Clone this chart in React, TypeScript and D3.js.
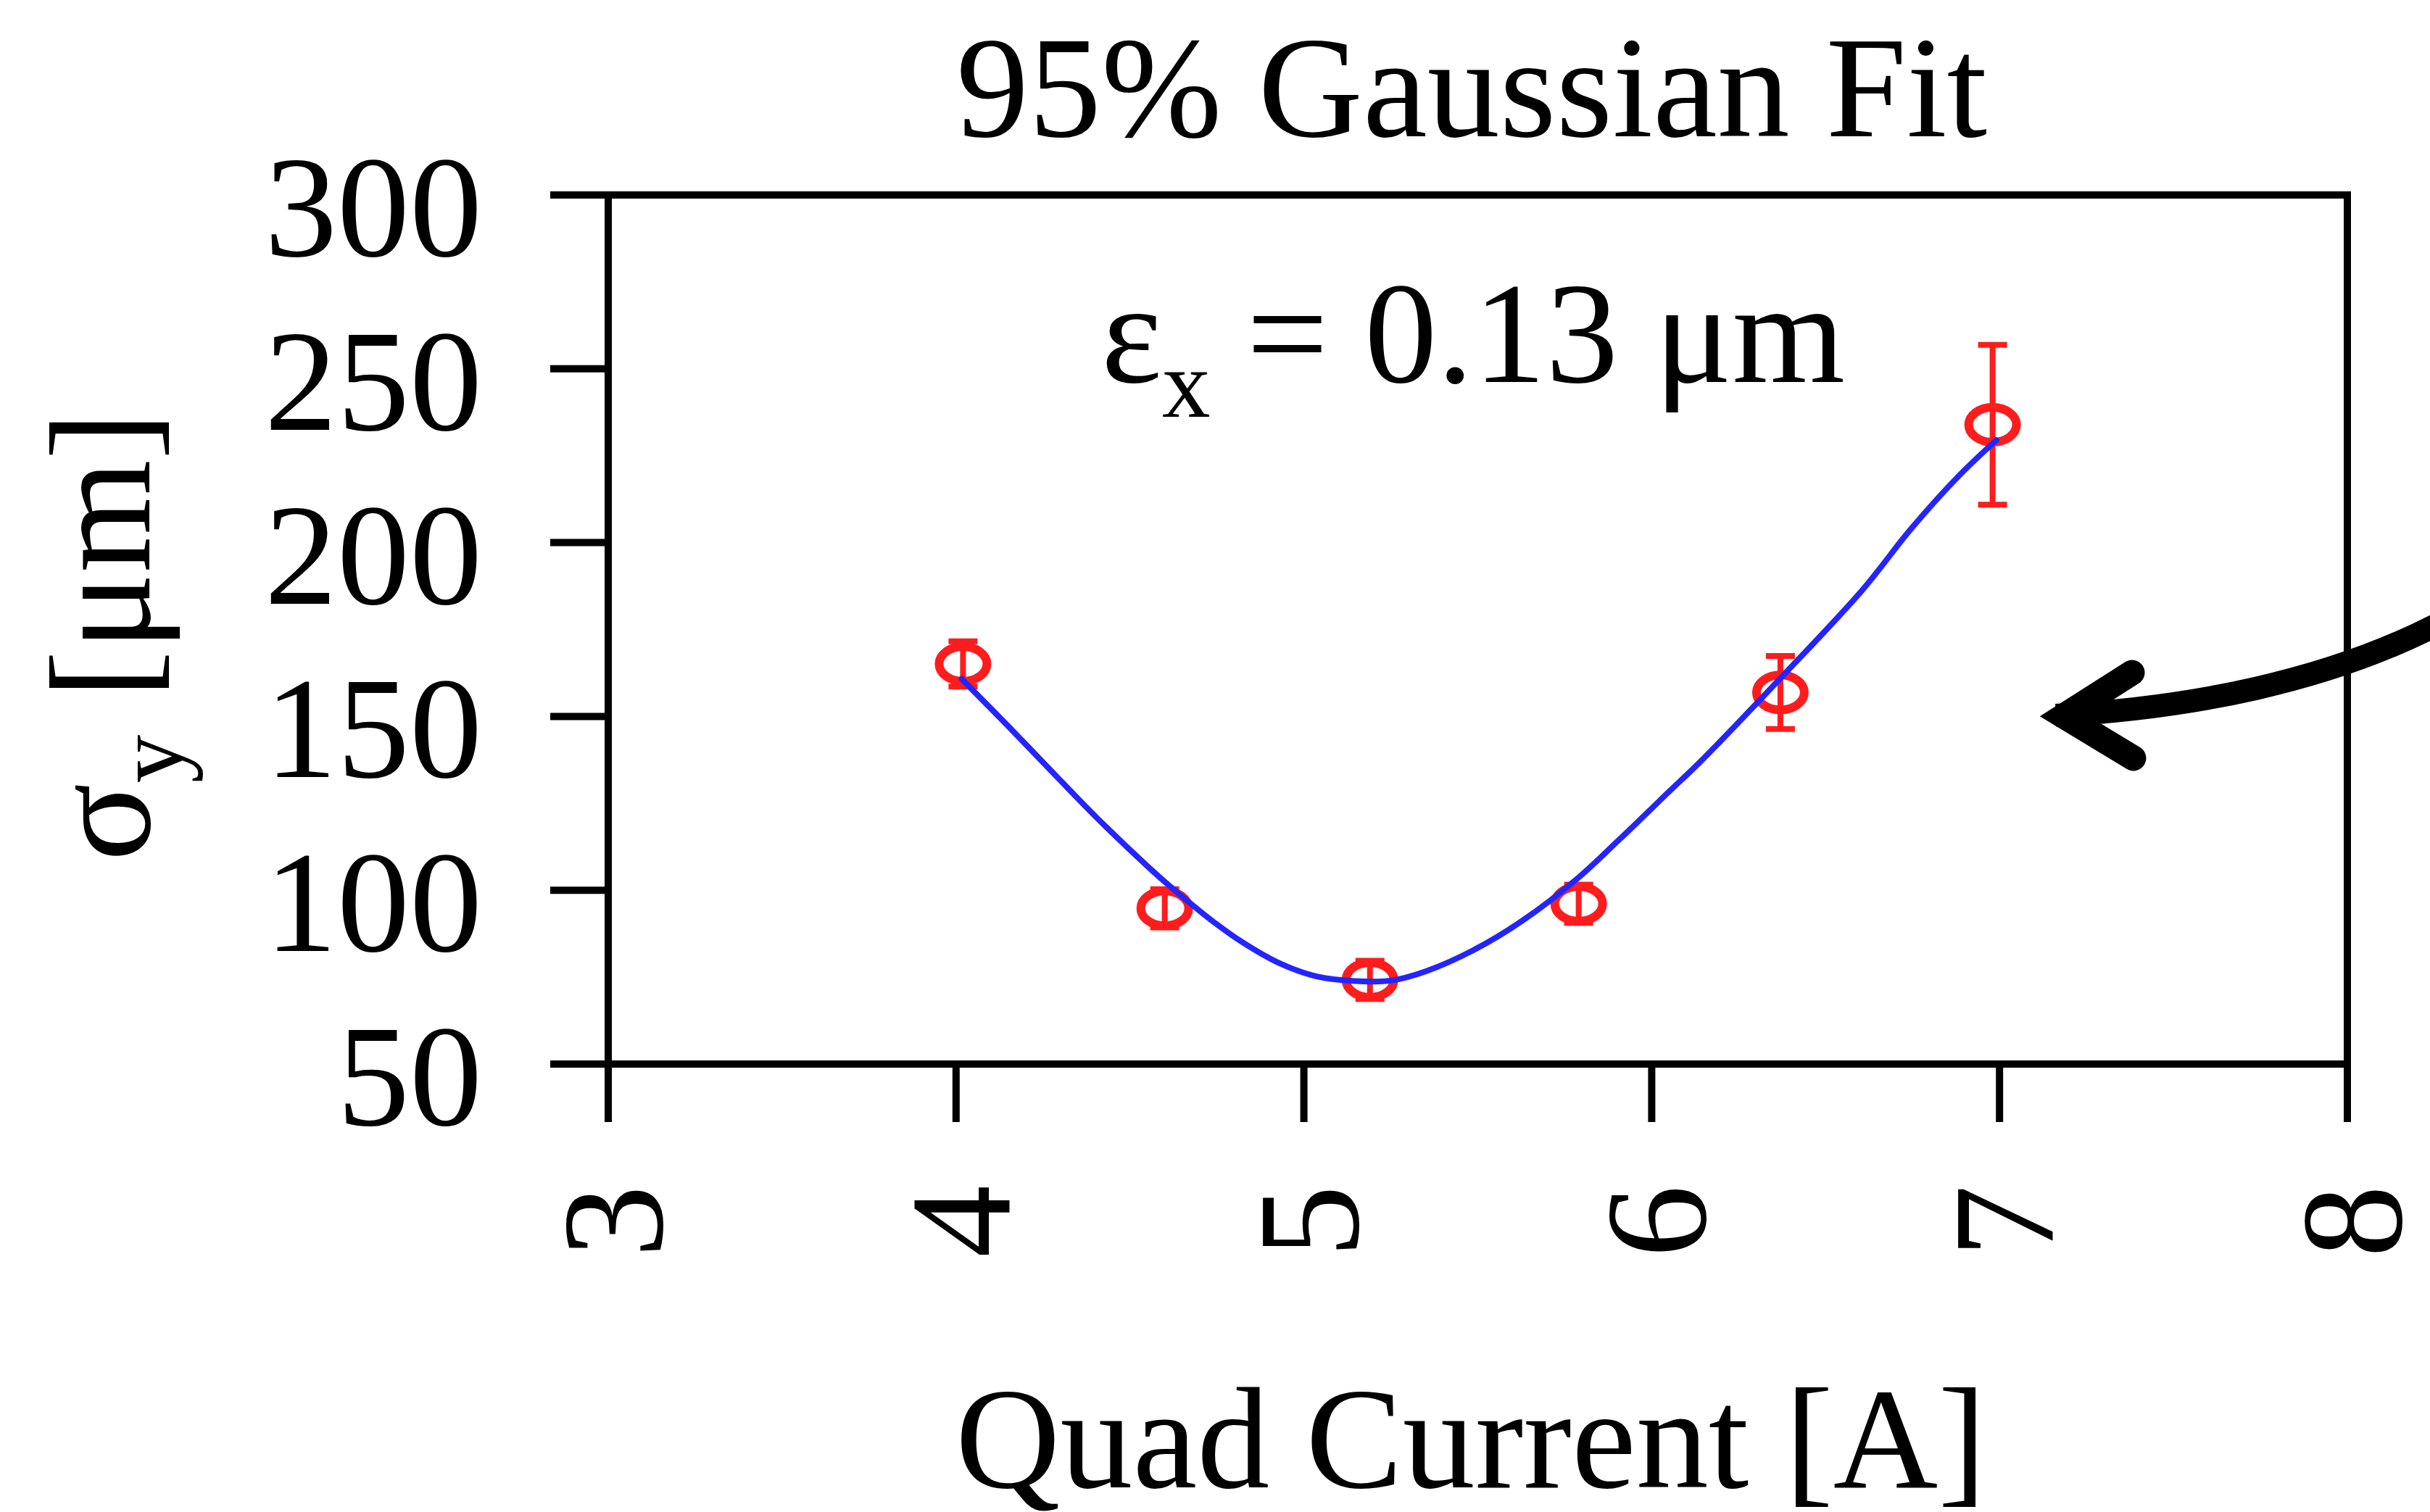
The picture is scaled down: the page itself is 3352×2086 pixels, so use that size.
import React from "react";
import * as d3 from "d3";

// Quad scan: vertical beam size versus quadrupole current
const currents = [4.02, 4.6, 5.19, 5.79, 6.37, 6.98];
const sigmaY = [165.1, 94.8, 74.2, 96.1, 156.9, 233.9];
const sigmaErr = [6.5, 5.5, 5.5, 5.5, 10.5, 23];

// Fitted envelope, sampled along the drawn curve
const fitCurrent = [4.016, 4.148, 4.271, 4.403, 4.558, 4.611, 4.739, 4.824, 4.93, 5.037, 5.143, 5.249, 5.351, 5.49, 5.629, 5.789, 5.907, 6.046, 6.144, 6.375, 6.606, 6.746, 6.886, 6.991];
const fitSigma = [160.8, 147.4, 134.6, 121.0, 106.2, 101.5, 91.0, 85.0, 79.0, 75.2, 73.9, 74.0, 76.7, 82.9, 91.3, 103.6, 114.6, 128.0, 137.4, 161.5, 186.4, 204.0, 219.5, 229.5];

const xTicks = [3, 4, 5, 6, 7, 8];
const yTicks = [50, 100, 150, 200, 250, 300];

// Pointer arrow (data units): head and shaft
const arrowHead = [
  [7.381, 162.6],
  [7.185, 150.1],
  [7.385, 138.0],
];
const arrowShaft = [
  [7.162, 150.3],
  [7.506, 152.2],
  [7.965, 159.0],
  [8.34, 180.9],
];

const W = 3352;
const H = 2086;
const FONT = "'Liberation Serif', 'Times New Roman', serif";
const RED = "#ff1c1c";
const BLUE = "#2424ff";

export default function App() {
  const x = d3.scaleLinear().domain([3, 8]).range([839, 3238]);
  const y = d3.scaleLinear().domain([50, 300]).range([1468, 269]);

  const fitLine = d3
    .line<number>()
    .x((d) => x(fitCurrent[d]))
    .y((d) => y(fitSigma[d]))
    .curve(d3.curveCatmullRom.alpha(0.5));
  const fitPath = fitLine(fitCurrent.map((_, i) => i)) || "";

  const headPath = d3.line<number[]>().x((d) => x(d[0])).y((d) => y(d[1]))(arrowHead) || "";
  const [s0, s1, s2, s3] = arrowShaft.map((p) => [x(p[0]), y(p[1])]);
  const shaftPath = `M${s0[0]},${s0[1]} C${s1[0]},${s1[1]} ${s2[0]},${s2[1]} ${s3[0]},${s3[1]}`;

  const [x0, x1] = x.range();
  const [yb, yt] = y.range();
  const tickLen = 80;
  const axisW = 10;
  const capHalf = 20;

  return (
    <svg
      width={W}
      height={H}
      viewBox={`0 0 ${W} ${H}`}
      style={{ position: "absolute", left: 0, top: 0, background: "#fff" }}
      fontFamily={FONT}
    >
      <rect x={0} y={0} width={W} height={H} fill="#fff" />

      {/* title */}
      <text x={2030} y={188} fontSize={200} textAnchor="middle" fill="#000">
        95% Gaussian Fit
      </text>

      {/* frame with outward ticks */}
      <g stroke="#000" strokeWidth={axisW} strokeLinecap="butt">
        <line x1={x0 - tickLen} x2={x1 + axisW / 2} y1={yt} y2={yt} />
        <line x1={x0 - tickLen} x2={x1 + axisW / 2} y1={yb} y2={yb} />
        <line x1={x0} x2={x0} y1={yt} y2={yb + tickLen} />
        <line x1={x1} x2={x1} y1={yt} y2={yb + tickLen} />
        {yTicks.map((t) => (
          <line key={`yt${t}`} x1={x0 - tickLen} x2={x0} y1={y(t)} y2={y(t)} />
        ))}
        {xTicks.map((t) => (
          <line key={`xt${t}`} x1={x(t)} x2={x(t)} y1={yb} y2={yb + tickLen} />
        ))}
      </g>

      {/* y tick labels */}
      {yTicks.map((t) => (
        <text key={`yl${t}`} x={665} y={y(t) + 84} fontSize={200} textAnchor="end" fill="#000">
          {t}
        </text>
      ))}

      {/* x tick labels, rotated */}
      {xTicks.map((t) => (
        <text
          key={`xl${t}`}
          transform={`translate(${x(t) + 4},1685) rotate(-90)`}
          fontSize={200}
          textAnchor="middle"
          dy="0.35em"
          fill="#000"
        >
          {t}
        </text>
      ))}

      {/* axis titles */}
      <text transform="translate(206,878) rotate(-90)" fontSize={200} textAnchor="middle" fill="#000">
        σ<tspan fontSize={133} dy={46}>y</tspan>
        <tspan dy={-46}> [μm]</tspan>
      </text>
      <text x={2029} y={2052} fontSize={200} textAnchor="middle" fill="#000">
        Quad Current [A]
      </text>

      {/* emittance annotation */}
      <text x={1519} y={527} fontSize={200} fill="#000">
        ε<tspan fontSize={133} dy={48}>x</tspan>
        <tspan dy={-48}> = 0.13 μm</tspan>
      </text>

      {/* error bars */}
      <g stroke={RED} strokeWidth={8}>
        {currents.map((c, i) => (
          <g key={`eb${i}`}>
            <line x1={x(c)} x2={x(c)} y1={y(sigmaY[i] + sigmaErr[i])} y2={y(sigmaY[i] - sigmaErr[i])} />
            <line x1={x(c) - capHalf} x2={x(c) + capHalf} y1={y(sigmaY[i] + sigmaErr[i])} y2={y(sigmaY[i] + sigmaErr[i])} />
            <line x1={x(c) - capHalf} x2={x(c) + capHalf} y1={y(sigmaY[i] - sigmaErr[i])} y2={y(sigmaY[i] - sigmaErr[i])} />
          </g>
        ))}
      </g>

      {/* measured points */}
      {currents.map((c, i) => (
        <ellipse key={`pt${i}`} cx={x(c)} cy={y(sigmaY[i])} rx={33} ry={24} fill="none" stroke={RED} strokeWidth={12} />
      ))}

      {/* fit */}
      <path d={fitPath} fill="none" stroke={BLUE} strokeWidth={8} strokeLinejoin="round" strokeLinecap="round" />

      {/* pointer arrow */}
      <path d={shaftPath} fill="none" stroke="#000" strokeWidth={32} />
      <path d={headPath} fill="none" stroke="#000" strokeWidth={35} strokeLinecap="round" strokeLinejoin="miter" strokeMiterlimit={10} />
    </svg>
  );
}
